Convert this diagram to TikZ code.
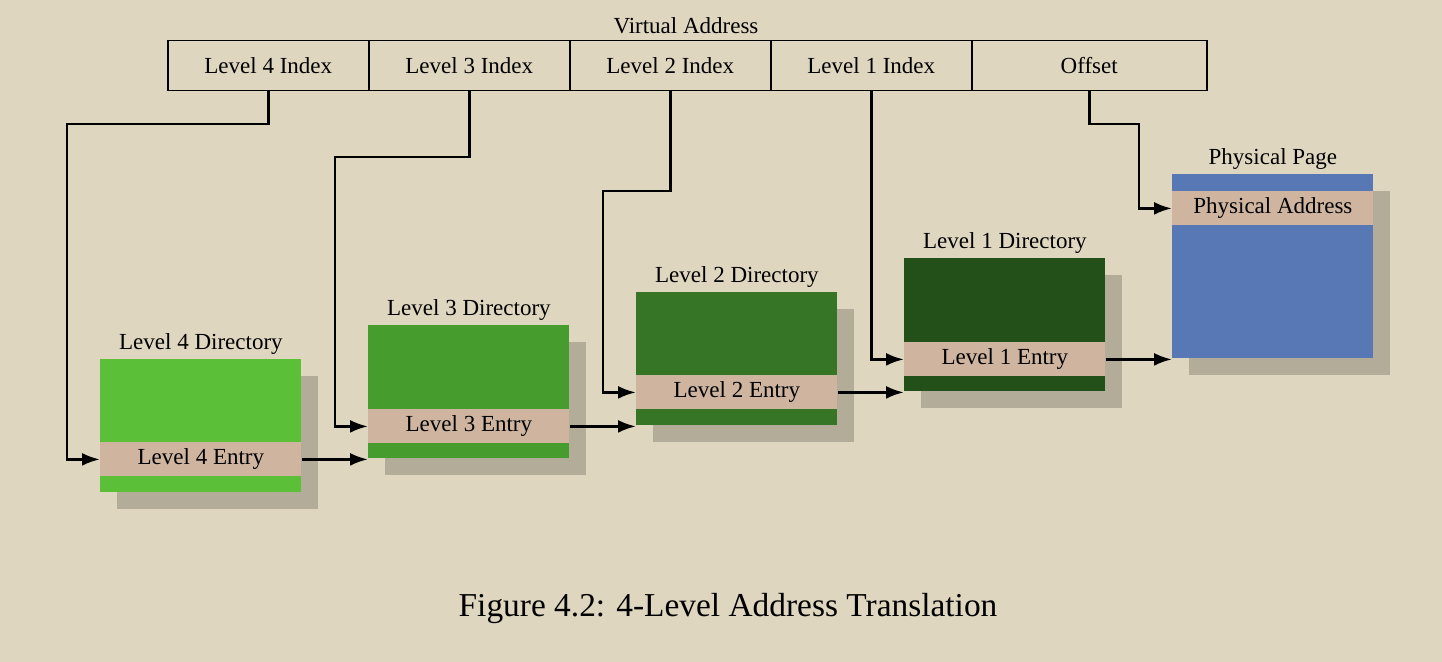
\documentclass[tikz,border=0pt]{standalone}
\usepackage{fontspec}
\setmainfont{Liberation Serif}
\usetikzlibrary{arrows.meta}
\definecolor{bg}{HTML}{DED6BF}
\definecolor{shadowc}{HTML}{B3AC99}
\definecolor{entryc}{HTML}{CFB5A0}
\definecolor{gfour}{HTML}{5BC038}
\definecolor{gthree}{HTML}{479C2E}
\definecolor{gtwo}{HTML}{357525}
\definecolor{gone}{HTML}{234F18}
\definecolor{bluep}{HTML}{5878B5}
\begin{document}
\begin{tikzpicture}[x=0.5pt,y=-0.5pt,
  txt/.style={font=\fontsize{11.5}{13}\selectfont},
  cell/.style={txt,draw=black,line width=0.75pt,minimum height=25pt,inner sep=0pt,anchor=north west},
  dirbox/.style={minimum width=100.5pt,minimum height=66.5pt,inner sep=0pt,anchor=north west},
  shadowbox/.style={dirbox,fill=shadowc},
  entrybox/.style={txt,fill=entryc,minimum width=100.5pt,minimum height=17pt,inner sep=0pt,anchor=north west},
  dirlabel/.style={txt,anchor=south,inner sep=0pt,yshift=2pt},
  arr/.style={line width=1.4pt,-{Latex[length=9pt,width=6.5pt]}}]
\useasboundingbox[fill=bg] (0,0) rectangle (1442,662);

% Virtual address bar
\node[cell,minimum width=100.5pt] (i4) at (167,40) {Level 4 Index};
\node[cell,minimum width=100.5pt] (i3) at (368,40) {Level 3 Index};
\node[cell,minimum width=100.5pt] (i2) at (569,40) {Level 2 Index};
\node[cell,minimum width=100.5pt] (i1) at (770,40) {Level 1 Index};
\node[cell,minimum width=117.5pt] (io) at (971,40) {Offset};
\node[txt,anchor=south,inner sep=0pt,yshift=3pt] (va) at (686,40) {Virtual Address};

% Level 4 directory
\node[shadowbox] (s4) at (117,376) {};
\node[dirbox,fill=gfour] (d4) at (100,359) {};
\node[entrybox] (e4) at (100,442) {Level 4 Entry};
\node[dirlabel] (l4) at (d4.north) {Level 4 Directory};

% Level 3 directory
\node[shadowbox] (s3) at (385,342) {};
\node[dirbox,fill=gthree] (d3) at (368,325) {};
\node[entrybox] (e3) at (368,409) {Level 3 Entry};
\node[dirlabel] (l3) at (d3.north) {Level 3 Directory};

% Level 2 directory
\node[shadowbox] (s2) at (653,309) {};
\node[dirbox,fill=gtwo] (d2) at (636,292) {};
\node[entrybox] (e2) at (636,375) {Level 2 Entry};
\node[dirlabel] (l2) at (d2.north) {Level 2 Directory};

% Level 1 directory
\node[shadowbox] (s1) at (921,275) {};
\node[dirbox,fill=gone] (d1) at (904,258) {};
\node[entrybox] (e1) at (904,342) {Level 1 Entry};
\node[dirlabel] (l1) at (d1.north) {Level 1 Directory};

% Physical page
\node[shadowbox,minimum height=92pt] (sp) at (1189,191) {};
\node[dirbox,fill=bluep,minimum height=92pt] (pp) at (1172,174) {};
\node[entrybox] (ep) at (1172,191) {Physical Address};
\node[dirlabel] (lp) at (pp.north) {Physical Page};

% Index connectors
\coordinate (c4a) at (67,124);
\coordinate (c3a) at (335,157);
\coordinate (c2a) at (603,191);
\coordinate (coa) at (1139,124);
\draw[arr] (i4.south) |- (c4a) |- (e4.west);
\draw[arr] (i3.south) |- (c3a) |- (e3.west);
\draw[arr] (i2.south) |- (c2a) |- (e2.west);
\draw[arr] (i1.south) |- (e1.west);
\draw[arr] (io.south) |- (coa) |- (ep.west);

% Entry to next level
\draw[arr] (e4.east) -- (e4.east -| d3.west);
\draw[arr] (e3.east) -- (e3.east -| d2.west);
\draw[arr] (e2.east) -- (e2.east -| d1.west);
\draw[arr] (e1.east) -- (e1.east -| pp.west);

% Caption
\node[font=\fontsize{16.7}{19}\selectfont] (cap) at (728,609) {Figure 4.2: 4-Level Address Translation};
\end{tikzpicture}
\end{document}
